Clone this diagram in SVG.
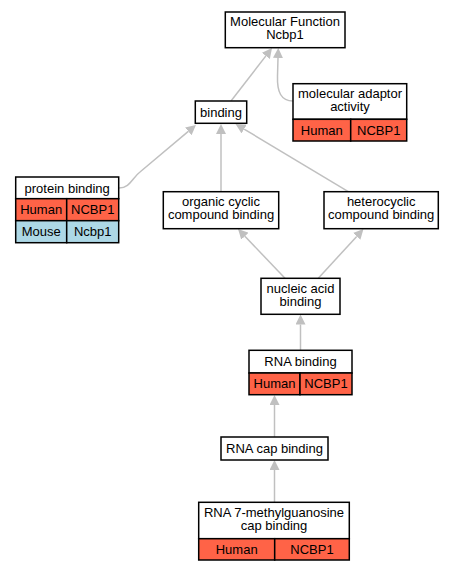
<svg xmlns="http://www.w3.org/2000/svg" width="455" height="571" viewBox="0 0 455 571">
<style>
text{font-family:"Liberation Sans",Arial,sans-serif;font-size:13px;fill:#000;text-anchor:middle}
.n{fill:#fff;stroke:#000;stroke-width:1.5}
.h{fill:#ff6347;stroke:#000;stroke-width:1.5}
.m{fill:#add8e6;stroke:#000;stroke-width:1.5}
.e{fill:none;stroke:#c0c0c0;stroke-width:1.5}
</style>
<defs>
<marker id="a" viewBox="0 0 10 10" refX="0" refY="5" markerWidth="10" markerHeight="10" markerUnits="userSpaceOnUse" orient="auto">
<path d="M0,0 L10,5 L0,10 z" fill="#c0c0c0"/>
</marker>
</defs>
<rect width="455" height="571" fill="#fff"/>
<g id="edges">
<path class="e" marker-end="url(#a)" d="M231,101 L265.9,55.9"/>
<path class="e" marker-end="url(#a)" d="M293,101 C281,101 277,92 277.5,76 L278,58"/>
<path class="e" marker-end="url(#a)" d="M119,188 C130,188 132,178 140,172 L188.3,131.4"/>
<path class="e" marker-end="url(#a)" d="M221,191.7 L221,134"/>
<path class="e" marker-end="url(#a)" d="M348.3,191.7 L244.1,129.1"/>
<path class="e" marker-end="url(#a)" d="M285,278.3 L244.9,236.2"/>
<path class="e" marker-end="url(#a)" d="M318.3,278.3 L356.7,236.4"/>
<path class="e" marker-end="url(#a)" d="M300.5,350.3 L300.5,324.5"/>
<path class="e" marker-end="url(#a)" d="M274.5,437 L274.5,405"/>
<path class="e" marker-end="url(#a)" d="M274.5,502.3 L274.5,470"/>
</g>
<g id="mf">
<rect class="n" x="225.3" y="12" width="119.7" height="35.7"/>
<text x="285" y="26">Molecular Function</text>
<text x="285" y="39">Ncbp1</text>
</g>
<g id="adaptor">
<rect class="n" x="293" y="83.7" width="113.7" height="35.6"/>
<rect class="h" x="293" y="119.3" width="57.7" height="21.7"/>
<rect class="h" x="350.7" y="119.3" width="56" height="21.7"/>
<text x="350" y="98">molecular adaptor</text>
<text x="350" y="111">activity</text>
<text x="321.8" y="134.5">Human</text>
<text x="378.7" y="134.5">NCBP1</text>
</g>
<g id="binding">
<rect class="n" x="195.3" y="101" width="51.4" height="22.3"/>
<text x="221" y="116.5">binding</text>
</g>
<g id="protein">
<rect class="n" x="15.7" y="177" width="103" height="21.7"/>
<rect class="h" x="15.7" y="198.7" width="51" height="22"/>
<rect class="h" x="66.7" y="198.7" width="52" height="22"/>
<rect class="m" x="15.7" y="220.7" width="51" height="22"/>
<rect class="m" x="66.7" y="220.7" width="52" height="22"/>
<text x="67.2" y="192.5">protein binding</text>
<text x="41.2" y="214.3">Human</text>
<text x="92.7" y="214.3">NCBP1</text>
<text x="41.2" y="236.3">Mouse</text>
<text x="92.7" y="236.3">Ncbp1</text>
</g>
<g id="organic">
<rect class="n" x="163.3" y="191.7" width="115.4" height="37"/>
<text x="221" y="206">organic cyclic</text>
<text x="221" y="219">compound binding</text>
</g>
<g id="hetero">
<rect class="n" x="324" y="191.7" width="114.3" height="37"/>
<text x="381.2" y="206">heterocyclic</text>
<text x="381.2" y="219">compound binding</text>
</g>
<g id="nucleic">
<rect class="n" x="261" y="278.3" width="79" height="36"/>
<text x="300.5" y="292.5">nucleic acid</text>
<text x="300.5" y="305.5">binding</text>
</g>
<g id="rna">
<rect class="n" x="249" y="350.3" width="103" height="22.7"/>
<rect class="h" x="249" y="373" width="51" height="21.7"/>
<rect class="h" x="300" y="373" width="52" height="21.7"/>
<text x="300.5" y="366">RNA binding</text>
<text x="274.5" y="388.3">Human</text>
<text x="326" y="388.3">NCBP1</text>
</g>
<g id="cap">
<rect class="n" x="221" y="437" width="107" height="23"/>
<text x="274.5" y="453">RNA cap binding</text>
</g>
<g id="m7g">
<rect class="n" x="198.7" y="502.3" width="150.6" height="36.4"/>
<rect class="h" x="198.7" y="538.7" width="76" height="21.3"/>
<rect class="h" x="274.7" y="538.7" width="74.6" height="21.3"/>
<text x="274" y="517">RNA 7-methylguanosine</text>
<text x="274" y="530">cap binding</text>
<text x="236.7" y="553.5">Human</text>
<text x="312" y="553.5">NCBP1</text>
</g>
</svg>
